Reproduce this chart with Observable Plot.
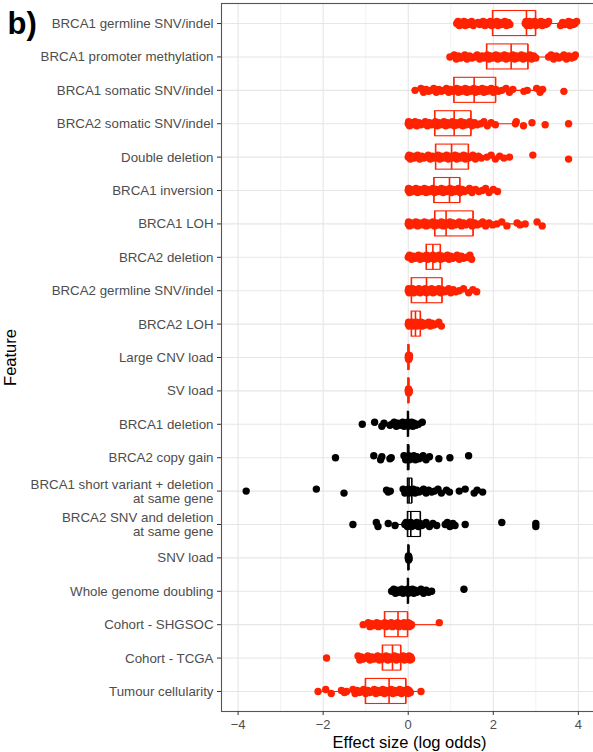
<!DOCTYPE html>
<html>
<head>
<meta charset="utf-8">
<script src="https://cdn.jsdelivr.net/npm/d3@7"></script>
<script src="https://cdn.jsdelivr.net/npm/@observablehq/plot@0.6"></script>
<style>
  html, body { margin: 0; padding: 0; background: #fff; overflow: hidden; }
  #chart { width: 593px; height: 752px; overflow: hidden; }
  #chart svg { max-width: none !important; }
</style>
</head>
<body>
<div id="chart"></div>
<script>
// Features, top to bottom
const features = [
  "BRCA1 germline SNV/indel",
  "BRCA1 promoter methylation",
  "BRCA1 somatic SNV/indel",
  "BRCA2 somatic SNV/indel",
  "Double deletion",
  "BRCA1 inversion",
  "BRCA1 LOH",
  "BRCA2 deletion",
  "BRCA2 germline SNV/indel",
  "BRCA2 LOH",
  "Large CNV load",
  "SV load",
  "BRCA1 deletion",
  "BRCA2 copy gain",
  "BRCA1 short variant + deletion at same gene",
  "BRCA2 SNV and deletion at same gene",
  "SNV load",
  "Whole genome doubling",
  "Cohort - SHGSOC",
  "Cohort - TCGA",
  "Tumour cellularity"
];

// Wrapped axis labels for the long feature names
const wrappedLabels = {
  "BRCA1 short variant + deletion at same gene": "BRCA1 short variant + deletion\nat same gene",
  "BRCA2 SNV and deletion at same gene": "BRCA2 SNV and deletion\nat same gene"
};

// Whether the feature's effect is significant (drawn in red)
const significant = [1,1,1,1,1,1,1,1,1,1,1,1, 0,0,0,0,0,0, 1,1,1];

// Box summaries (log odds)
const q1     = [1.99, 1.85, 1.08, 0.63, 0.65, 0.61, 0.63, 0.43, 0.08, 0.08, 0.00, 0.00, -0.01, -0.01, -0.01, -0.01, 0.00, -0.01, -0.55, -0.60, -1.00];
const median = [2.78, 2.42, 1.55, 1.08, 1.02, 0.97, 0.89, 0.58, 0.43, 0.17, 0.01, 0.01,  0.00,  0.00,  0.02,  0.06, 0.01,  0.00, -0.24, -0.37, -0.45];
const q3     = [3.00, 2.82, 2.06, 1.48, 1.42, 1.22, 1.53, 0.76, 0.80, 0.29, 0.02, 0.02,  0.01,  0.02,  0.09,  0.29, 0.02,  0.01, -0.01, -0.17, -0.05];
const whiskerLo = [1.14, 0.98, 0.16, 0.00, 0.00, 0.00, 0.00, 0.00, 0.00, 0.00, 0.00, 0.00, -0.01, -0.01, -0.12, -0.31, 0.00, -0.01, -1.06, -1.18, -2.12];
const whiskerHi = [3.96, 3.93, 3.16, 2.52, 2.38, 2.10, 2.75, 1.25, 1.61, 0.60, 0.03, 0.03,  0.01,  0.02,  0.20,  0.67, 0.02,  0.01,  0.73,  0.08,  0.30];

// Per-sample effect sizes for each feature
const brca1Germline = [1.14,1.17,1.2,1.23,1.26,1.28,1.31,1.34,1.37,1.41,1.45,1.49,1.53,1.64,1.68,1.72,1.76,1.8,1.83,1.86,1.9,1.93,1.96,1.99,2.02,2.05,2.08,2.11,2.15,2.19,2.23,2.27,2.31,2.35,2.39,2.75,2.77,2.79,2.8,2.82,2.84,2.85,2.87,2.9,2.92,2.95,2.97,3.0,3.03,3.06,3.09,3.12,3.15,3.19,3.23,3.27,3.3,3.58,3.63,3.68,3.72,3.77,3.8,3.84,3.88,3.92,3.96];
const brca1Promoter = [0.98,1.08,1.13,1.18,1.23,1.28,1.33,1.38,1.44,1.5,1.56,1.62,1.68,1.74,1.78,1.82,1.86,1.9,1.94,1.98,2.02,2.06,2.1,2.14,2.18,2.22,2.26,2.3,2.34,2.38,2.42,2.46,2.5,2.54,2.58,2.62,2.66,2.7,2.74,2.78,2.82,2.86,2.9,2.95,3.0,3.3,3.36,3.42,3.48,3.54,3.6,3.66,3.72,3.78,3.84,3.9,3.93];
const brca1Somatic = [0.16,0.3,0.36,0.42,0.48,0.54,0.6,0.66,0.72,0.78,0.84,0.9,0.95,1.0,1.05,1.1,1.14,1.18,1.22,1.26,1.3,1.34,1.38,1.42,1.46,1.5,1.54,1.58,1.62,1.66,1.7,1.74,1.78,1.82,1.86,1.9,1.95,2.0,2.06,2.12,2.2,2.3,2.38,2.46,2.72,2.8,3.02,3.1,3.16,3.66];
const brca2Somatic = [0,0.01,0.03,0.05,0.08,0.12,0.16,0.2,0.25,0.3,0.35,0.4,0.45,0.5,0.55,0.6,0.64,0.68,0.72,0.76,0.8,0.84,0.88,0.92,0.96,1.0,1.04,1.08,1.12,1.16,1.2,1.24,1.28,1.32,1.36,1.4,1.45,1.5,1.56,1.62,1.7,1.78,1.86,1.95,2.05,2.52,2.54,2.71,2.91,3.22,3.77];
const doubleDeletion = [0,0.02,0.05,0.1,0.14,0.18,0.22,0.27,0.32,0.37,0.42,0.47,0.52,0.57,0.62,0.66,0.7,0.74,0.78,0.82,0.86,0.9,0.94,0.98,1.02,1.06,1.1,1.14,1.18,1.22,1.26,1.3,1.34,1.38,1.42,1.47,1.52,1.58,1.65,1.72,1.85,1.95,2.05,2.15,2.25,2.38,2.93,3.77];
const brca1Inversion = [0,0.01,0.03,0.06,0.1,0.14,0.18,0.22,0.26,0.3,0.34,0.38,0.42,0.46,0.5,0.54,0.58,0.62,0.66,0.7,0.74,0.78,0.82,0.86,0.9,0.94,0.98,1.02,1.06,1.1,1.14,1.18,1.22,1.27,1.32,1.38,1.44,1.5,1.58,1.66,1.74,1.82,1.9,2.0,2.1];
const brca1Loh = [0,0.01,0.03,0.06,0.1,0.14,0.18,0.22,0.26,0.3,0.34,0.38,0.42,0.46,0.5,0.54,0.58,0.62,0.66,0.7,0.74,0.78,0.82,0.86,0.9,0.94,0.98,1.02,1.06,1.1,1.15,1.2,1.25,1.3,1.35,1.4,1.45,1.5,1.56,1.62,1.68,1.75,1.82,1.9,1.98,2.08,2.2,2.32,2.56,2.63,2.75,3.03,3.15];
const brca2Deletion = [0,0.03,0.08,0.12,0.16,0.2,0.24,0.28,0.32,0.36,0.4,0.43,0.46,0.49,0.52,0.55,0.58,0.61,0.64,0.67,0.7,0.73,0.76,0.8,0.84,0.88,0.92,0.96,1.0,1.05,1.1,1.15,1.2,1.25,1.3,1.38,1.45,1.49];
const brca2Germline = [0,0.01,0.02,0.04,0.06,0.08,0.1,0.13,0.16,0.19,0.22,0.25,0.28,0.31,0.34,0.37,0.4,0.43,0.46,0.49,0.52,0.55,0.58,0.61,0.64,0.68,0.72,0.76,0.8,0.85,0.9,0.95,1.0,1.06,1.12,1.2,1.3,1.42,1.52,1.61];
const brca2Loh = [0,0.01,0.02,0.03,0.05,0.07,0.09,0.11,0.13,0.15,0.17,0.19,0.21,0.23,0.25,0.27,0.3,0.33,0.36,0.4,0.44,0.48,0.52,0.56,0.6,0.66,0.72,0.78];
const largeCnvLoad = [0,0.005,0.01,0.015,0.02,0.025,0.03];
const svLoad = [0,0.005,0.01,0.015,0.02,0.025];
const brca1Deletion = [-1.08,-0.79,-0.62,-0.57,-0.43,-0.38,-0.33,-0.28,-0.24,-0.2,-0.16,-0.13,-0.1,-0.07,-0.05,-0.03,-0.01,0,0.01,0.03,0.05,0.08,0.11,0.14,0.18,0.24,0.33];
const brca2CopyGain = [-1.71,-0.81,-0.65,-0.62,-0.43,-0.4,-0.1,-0.06,-0.03,-0.01,0,0.01,0.03,0.05,0.08,0.1,0.13,0.17,0.2,0.25,0.3,0.35,0.42,0.5,0.72,0.98,1.42];
const brca1ShortPlusDel = [-3.81,-2.16,-1.51,-0.51,-0.47,-0.42,-0.12,-0.08,-0.04,-0.02,0,0.01,0.02,0.04,0.06,0.09,0.12,0.16,0.2,0.25,0.3,0.36,0.42,0.48,0.55,0.62,0.7,0.78,0.9,0.97,1.2,1.34,1.55,1.62,1.75];
const brca2SnvPlusDel = [-1.3,-0.75,-0.71,-0.47,-0.31,-0.08,-0.05,-0.02,0,0.02,0.04,0.06,0.08,0.1,0.13,0.16,0.2,0.24,0.28,0.32,0.36,0.42,0.5,0.58,0.67,0.87,0.92,0.98,1.05,1.1,1.34,2.2,3.0,3.0];
const snvLoad = [0,0.005,0.01,0.015,0.02];
const wholeGenomeDoubling = [-0.39,-0.34,-0.3,-0.26,-0.22,-0.18,-0.15,-0.12,-0.09,-0.06,-0.04,-0.02,0,0.02,0.04,0.07,0.1,0.13,0.16,0.2,0.25,0.3,0.36,0.42,0.48,0.55,1.31];
const cohortShgsoc = [-1.06,-0.94,-0.9,-0.86,-0.82,-0.78,-0.74,-0.7,-0.66,-0.62,-0.58,-0.55,-0.52,-0.49,-0.46,-0.43,-0.4,-0.37,-0.34,-0.31,-0.28,-0.25,-0.22,-0.19,-0.16,-0.13,-0.1,-0.08,-0.06,-0.04,-0.02,0,0.02,0.04,0.06,0.08,0.73];
const cohortTcga = [-1.92,-1.18,-1.14,-1.1,-1.06,-1.0,-0.95,-0.9,-0.85,-0.8,-0.76,-0.72,-0.68,-0.64,-0.6,-0.56,-0.52,-0.48,-0.44,-0.4,-0.36,-0.32,-0.28,-0.24,-0.2,-0.16,-0.12,-0.09,-0.06,-0.03,0,0.02,0.04,0.06,0.08];
const tumourCellularity = [-2.12,-1.94,-1.81,-1.57,-1.5,-1.45,-1.3,-1.25,-1.2,-1.15,-1.1,-1.05,-1.0,-0.95,-0.9,-0.85,-0.8,-0.76,-0.72,-0.68,-0.64,-0.6,-0.56,-0.52,-0.48,-0.44,-0.4,-0.36,-0.32,-0.28,-0.24,-0.2,-0.16,-0.12,-0.08,-0.05,-0.02,0,0.02,0.05,0.3];

const samplesByFeature = [
  brca1Germline, brca1Promoter, brca1Somatic, brca2Somatic, doubleDeletion,
  brca1Inversion, brca1Loh, brca2Deletion, brca2Germline, brca2Loh,
  largeCnvLoad, svLoad, brca1Deletion, brca2CopyGain, brca1ShortPlusDel,
  brca2SnvPlusDel, snvLoad, wholeGenomeDoubling, cohortShgsoc, cohortTcga,
  tumourCellularity
];

const xTicks = [-4, -2, 0, 2, 4];
const xMinorTicks = [-3, -1, 1, 3];

const RED = "#ff2200";
const BLACK = "#000000";

const boxes = features.map((f, i) => ({
  feature: f, q1: q1[i], median: median[i], q3: q3[i],
  lo: whiskerLo[i], hi: whiskerHi[i],
  color: significant[i] ? RED : BLACK
}));

const samples = features.flatMap((f, i) =>
  samplesByFeature[i].map((v, k) => ({
    feature: f, value: v, k, color: significant[i] ? RED : BLACK
  }))
);

// small vertical jitter, cycled through the samples of each feature
const jitter = [0, -2, 2, -1, 1];
const dotMarks = jitter.map((dy, g) =>
  Plot.dot(samples.filter(d => d.k % jitter.length === g), {
    x: "value", y: "feature", fill: "color", r: 3.7, stroke: null, dy
  })
);

const font = "'Liberation Sans', Arial, Helvetica, sans-serif";

const chart = Plot.plot({
  width: 597,
  height: 752,
  marginLeft: 221,
  marginRight: 0,
  marginTop: 3,
  marginBottom: 41,
  style: { fontFamily: font, fontSize: "13px", background: "#fff", color: "#4d4d4d", maxWidth: "none" },
  x: { domain: [-4.39, 4.45] },
  y: { type: "band", domain: features, paddingInner: 0.25, paddingOuter: 0.225, round: false },
  color: { type: "identity" },
  marks: [
    Plot.gridX(xMinorTicks, { stroke: "#ededed", strokeOpacity: 1, strokeWidth: 0.7 }),
    Plot.gridX(xTicks, { stroke: "#e6e6e6", strokeOpacity: 1, strokeWidth: 1.1 }),
    Plot.gridY({ stroke: "#e6e6e6", strokeOpacity: 1, strokeWidth: 1.1 }),
    // whiskers
    Plot.ruleY(boxes, { y: "feature", x1: "lo", x2: "q1", stroke: "color", strokeWidth: 1.1 }),
    Plot.ruleY(boxes, { y: "feature", x1: "q3", x2: "hi", stroke: "color", strokeWidth: 1.1 }),
    // boxes
    Plot.barX(boxes, { y: "feature", x1: "q1", x2: "q3", fill: "none", stroke: "color", strokeWidth: 1.1 }),
    Plot.tickX(boxes, { y: "feature", x: "q1", stroke: "color", strokeWidth: 1.1 }),
    Plot.tickX(boxes, { y: "feature", x: "q3", stroke: "color", strokeWidth: 1.1 }),
    Plot.tickX(boxes, { y: "feature", x: "median", stroke: "color", strokeWidth: 1.6 }),
    ...dotMarks,
    Plot.frame({ stroke: "#555", strokeWidth: 1.1 }),
    Plot.axisX({
      ticks: xTicks, tickSize: 4, tickPadding: 4, label: null,
      stroke: "#333", fill: "#4d4d4d", fontSize: 13
    }),
    Plot.axisY({
      tickSize: 4, tickPadding: 4, label: null,
      stroke: "#333", fill: "#4d4d4d", fontSize: 13.3, lineHeight: 1.05,
      tickFormat: d => wrappedLabels[d] ?? d
    }),
    Plot.text(["Effect size (log odds)"], {
      text: d => d, frameAnchor: "bottom", dy: 31, lineAnchor: "middle",
      textAnchor: "middle", fontSize: 16.5, fill: "#000"
    }),
    Plot.text(["Feature"], {
      text: d => d, frameAnchor: "left", dx: -211, rotate: -90,
      textAnchor: "middle", lineAnchor: "middle", fontSize: 16.5, fill: "#000"
    }),
    Plot.text(["b)"], {
      text: d => d, frameAnchor: "top-left", dx: -214, dy: 8,
      textAnchor: "start", lineAnchor: "top",
      fontSize: 31, fontWeight: "bold", fill: "#000"
    })
  ]
});

document.getElementById("chart").appendChild(chart);
</script>
</body>
</html>
